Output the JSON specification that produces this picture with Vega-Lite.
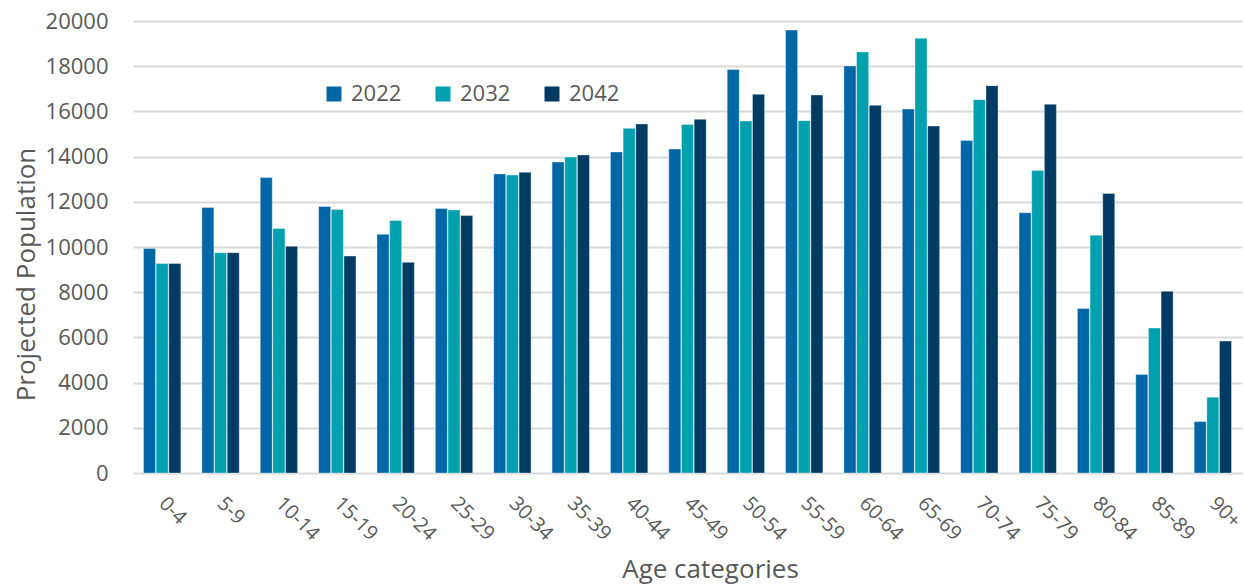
{
  "$schema": "https://vega.github.io/schema/vega-lite/v6.json",
  "width": 1109,
  "height": 452,
  "autosize": {"type": "none"},
  "padding": {"left": 133, "top": 21, "right": 2, "bottom": 112},
  "background": "white",
  "config": {
    "font": "Open Sans",
    "view": {"stroke": null},
    "axis": {"labelColor": "#595959", "titleColor": "#595959", "labelFont": "Open Sans", "titleFont": "Open Sans", "titleFontWeight": "normal"}
  },
  "data": {
    "values": [
      {"age": "0-4", "year": "2022", "pop": 9930},
      {"age": "0-4", "year": "2032", "pop": 9265},
      {"age": "0-4", "year": "2042", "pop": 9270},
      {"age": "5-9", "year": "2022", "pop": 11745},
      {"age": "5-9", "year": "2032", "pop": 9750},
      {"age": "5-9", "year": "2042", "pop": 9750},
      {"age": "10-14", "year": "2022", "pop": 13070},
      {"age": "10-14", "year": "2032", "pop": 10815},
      {"age": "10-14", "year": "2042", "pop": 10030},
      {"age": "15-19", "year": "2022", "pop": 11790},
      {"age": "15-19", "year": "2032", "pop": 11655},
      {"age": "15-19", "year": "2042", "pop": 9600},
      {"age": "20-24", "year": "2022", "pop": 10560},
      {"age": "20-24", "year": "2032", "pop": 11170},
      {"age": "20-24", "year": "2042", "pop": 9320},
      {"age": "25-29", "year": "2022", "pop": 11700},
      {"age": "25-29", "year": "2032", "pop": 11640},
      {"age": "25-29", "year": "2042", "pop": 11390},
      {"age": "30-34", "year": "2022", "pop": 13230},
      {"age": "30-34", "year": "2032", "pop": 13185},
      {"age": "30-34", "year": "2042", "pop": 13305},
      {"age": "35-39", "year": "2022", "pop": 13760},
      {"age": "35-39", "year": "2032", "pop": 13980},
      {"age": "35-39", "year": "2042", "pop": 14070},
      {"age": "40-44", "year": "2022", "pop": 14205},
      {"age": "40-44", "year": "2032", "pop": 15250},
      {"age": "40-44", "year": "2042", "pop": 15445},
      {"age": "45-49", "year": "2022", "pop": 14335},
      {"age": "45-49", "year": "2032", "pop": 15415},
      {"age": "45-49", "year": "2042", "pop": 15650},
      {"age": "50-54", "year": "2022", "pop": 17850},
      {"age": "50-54", "year": "2032", "pop": 15575},
      {"age": "50-54", "year": "2042", "pop": 16755},
      {"age": "55-59", "year": "2022", "pop": 19600},
      {"age": "55-59", "year": "2032", "pop": 15590},
      {"age": "55-59", "year": "2042", "pop": 16725},
      {"age": "60-64", "year": "2022", "pop": 18010},
      {"age": "60-64", "year": "2032", "pop": 18630},
      {"age": "60-64", "year": "2042", "pop": 16270},
      {"age": "65-69", "year": "2022", "pop": 16105},
      {"age": "65-69", "year": "2032", "pop": 19235},
      {"age": "65-69", "year": "2042", "pop": 15355},
      {"age": "70-74", "year": "2022", "pop": 14710},
      {"age": "70-74", "year": "2032", "pop": 16520},
      {"age": "70-74", "year": "2042", "pop": 17140},
      {"age": "75-79", "year": "2022", "pop": 11520},
      {"age": "75-79", "year": "2032", "pop": 13380},
      {"age": "75-79", "year": "2042", "pop": 16315},
      {"age": "80-84", "year": "2022", "pop": 7275},
      {"age": "80-84", "year": "2032", "pop": 10520},
      {"age": "80-84", "year": "2042", "pop": 12365},
      {"age": "85-89", "year": "2022", "pop": 4355},
      {"age": "85-89", "year": "2032", "pop": 6415},
      {"age": "85-89", "year": "2042", "pop": 8040},
      {"age": "90+", "year": "2022", "pop": 2275},
      {"age": "90+", "year": "2032", "pop": 3350},
      {"age": "90+", "year": "2042", "pop": 5840}
    ]
  },
  "mark": {"type": "bar", "stroke": "white", "strokeWidth": 0.6, "strokeOpacity": 0.6},
  "encoding": {
    "x": {
      "field": "age",
      "type": "nominal",
      "sort": null,
      "scale": {"paddingInner": 0.36, "paddingOuter": 0.18},
      "axis": {
        "title": "Age categories",
        "titleFontSize": 26,
        "titleX": 577,
        "titleY": 104,
        "titleBaseline": "alphabetic",
        "labelAngle": 45,
        "labelAlign": "left",
        "labelBaseline": "middle",
        "labelFontSize": 20,
        "labelPadding": 27,
        "labelOverlap": false,
        "ticks": false,
        "domain": false,
        "grid": false
      }
    },
    "xOffset": {"field": "year", "type": "nominal", "scale": {"paddingInner": 0.05}},
    "y": {
      "field": "pop",
      "type": "quantitative",
      "scale": {"domain": [0, 20000], "nice": false},
      "axis": {
        "title": "Projected Population",
        "titleFontSize": 26,
        "titleX": -107,
        "titleY": 253,
        "titleBaseline": "middle",
        "labelFontSize": 22,
        "labelPadding": 25,
        "labelOverlap": false,
        "values": [0, 2000, 4000, 6000, 8000, 10000, 12000, 14000, 16000, 18000, 20000],
        "format": "d",
        "ticks": false,
        "domain": false,
        "gridColor": "#d9d9d9",
        "gridWidth": 2
      }
    },
    "color": {
      "field": "year",
      "type": "nominal",
      "scale": {"domain": ["2022", "2032", "2042"], "range": ["#0067A7", "#00A0AF", "#003B64"]},
      "legend": {
        "title": null,
        "orient": "none",
        "legendX": 190,
        "legendY": 62,
        "direction": "horizontal",
        "columns": 3,
        "columnPadding": 30,
        "symbolType": "square",
        "symbolSize": 225,
        "symbolStrokeWidth": 0,
        "labelFontSize": 22,
        "labelColor": "#595959",
        "labelOffset": 6
      }
    }
  }
}
